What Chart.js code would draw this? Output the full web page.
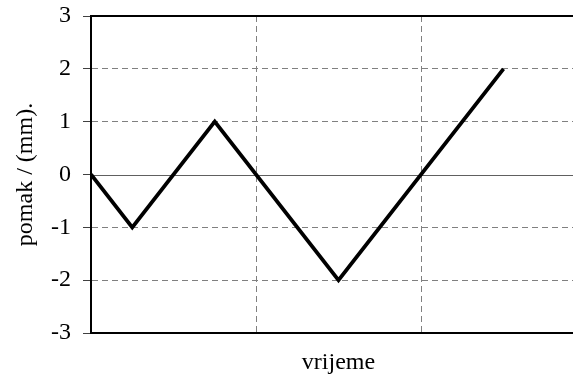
<!DOCTYPE html>
<html>
<head>
<meta charset="utf-8">
<script src="https://cdn.jsdelivr.net/npm/chart.js@4"></script>
<style>
  html, body { margin: 0; padding: 0; background: #fff; overflow: hidden; }
  #wrap { width: 590px; height: 380px; }
</style>
</head>
<body>
<div id="wrap"><canvas id="plot" width="590" height="380"></canvas></div>
<script>
// values
const timeValues = [0, 0.25, 0.75, 1.5, 2.5];
const displacement = [0, -1, 1, -2, 2];
const yTicks = [-3, -2, -1, 0, 1, 2, 3];

const serif = 'Liberation Serif';
const gridGray = '#808080';

// solid thin line at y = 0
const zeroLine = {
    id: 'zeroLine',
    beforeDatasetsDraw(chart) {
        const { ctx, chartArea, scales } = chart;
        const y = Math.round(scales.y.getPixelForValue(0)) + 0.5;
        ctx.save();
        ctx.strokeStyle = '#606060';
        ctx.lineWidth = 1;
        ctx.beginPath();
        ctx.moveTo(chartArea.left, y);
        ctx.lineTo(chartArea.right, y);
        ctx.stroke();
        ctx.restore();
    }
};

const ctx = document.getElementById('plot').getContext('2d');
new Chart(ctx, {
    type: 'line',
    data: {
        datasets: [{
            data: timeValues.map((t, i) => ({ x: t, y: displacement[i] })),
            borderColor: '#000',
            borderWidth: 3.8,
            pointRadius: 0,
            tension: 0,
            fill: false
        }]
    },
    options: {
        responsive: false,
        animation: false,
        layout: { padding: { right: 4 } },
        plugins: { legend: { display: false }, tooltip: { enabled: false } },
        scales: {
            x: {
                type: 'linear',
                min: 0,
                max: 3,
                ticks: { display: false, stepSize: 1 },
                grid: {
                    drawTicks: false,
                    color: c => (c.tick && (c.tick.value === 1 || c.tick.value === 2)) ? gridGray : 'transparent'
                },
                border: { color: '#000', width: 2, dash: [6, 4] },
                title: {
                    display: true,
                    text: 'vrijeme',
                    color: '#000',
                    font: { family: serif, size: 24 },
                    padding: { top: 0, bottom: 3 }
                },
                afterFit: s => { s.height = 47; s.paddingLeft = 0; s.paddingRight = 0; }
            },
            xTop: {
                type: 'linear',
                position: 'top',
                min: 0,
                max: 3,
                ticks: { display: false },
                grid: { drawOnChartArea: false, drawTicks: false },
                border: { color: '#000', width: 2 },
                afterFit: s => { s.height = 16; }
            },
            y: {
                min: -3,
                max: 3,
                afterBuildTicks: s => { s.ticks = yTicks.map(v => ({ value: v })); },
                ticks: {
                    color: '#000',
                    padding: 12,
                    font: { family: serif, size: 24 }
                },
                grid: {
                    tickLength: 8,
                    tickColor: '#404040',
                    tickBorderDash: [],
                    color: c => (c.tick && Math.abs(c.tick.value) > 0 && Math.abs(c.tick.value) < 3) ? gridGray : 'transparent'
                },
                border: { color: '#000', width: 2, dash: [6, 4] },
                title: {
                    display: true,
                    text: 'pomak / (mm).',
                    color: '#000',
                    font: { family: serif, size: 24 },
                    padding: { top: 11, bottom: 0 }
                },
                afterFit: s => { s.width = 91; s.paddingTop = 0; s.paddingBottom = 0; }
            }
        }
    },
    plugins: [zeroLine]
});
</script>
</body>
</html>
